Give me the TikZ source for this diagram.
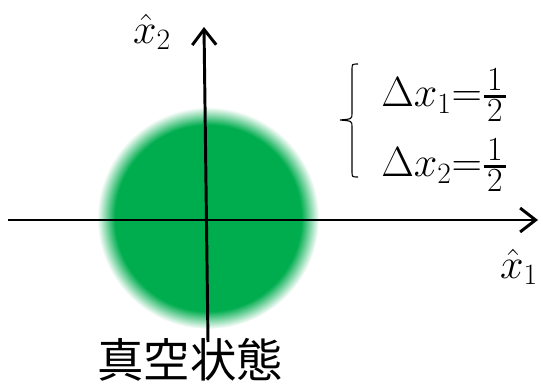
\RequirePackage{fix-cm}
\documentclass[tikz,border=0pt]{standalone}
\usepackage{amsmath}
\usepackage{fontspec}
\newfontfamily\jpfont{Noto Sans CJK JP}
\usetikzlibrary{arrows.meta}
\definecolor{vacgreen}{RGB}{0,173,78}
\pgfdeclareradialshading{blurdisk}{\pgfpoint{0bp}{0bp}}{color(0bp)=(vacgreen); color(21bp)=(vacgreen); color(25bp)=(white); color(50bp)=(white)}
\newcommand{\halfdigit}[1]{\hbox{\fontsize{24}{24}\selectfont\makebox[16pt]{#1}}}
\newcommand{\halfval}{\genfrac{}{}{1.5pt}{1}{\halfdigit{1}}{\halfdigit{2}}}

\begin{document}
\begin{tikzpicture}[
  x=0.025cm, y=-0.025cm,
  >={Straight Barb[length=11pt, width=17pt]},
  axis/.style={line width=2.1pt, ->},
  lbl/.style={font=\fontsize{30}{34}\selectfont, inner sep=0pt},
  bracket/.style={line width=0.8pt}
]
\useasboundingbox (0,0) rectangle (543,385);

% vacuum state
\shade[shading=blurdisk] (208,218) circle [radius=111];

% axes
\coordinate (west) at (8,220);
\coordinate (east) at (538,220);
\coordinate (south) at (208,342);
\coordinate (north) at (204,27);
\draw[axis] (west) -- (east);
\draw[axis] (south) -- (north);

\node[lbl] (xtwo) at (152,32) {$\hat{x}_2$};
\node[lbl] (xone) at (519,267) {$\hat{x}_1$};

% uncertainties
\node[lbl, anchor=base west] (dxone) at (381,107) {$\Delta x_1{=}\halfval$};
\node[lbl, anchor=base west] (dxtwo) at (381,177) {$\Delta x_2{=}\halfval$};
\coordinate (tip) at (340,120);
\draw[bracket] (358,64) .. controls (352,64) .. (352,70) -- (352,113)
  .. controls (352,119) .. (tip) .. controls (352,121) .. (352,127)
  -- (352,171) .. controls (352,177) .. (358,177);

\node[font=\jpfont\fontsize{33}{36}\selectfont, inner sep=0pt] (vac) at (190,360) {真空状態};
\end{tikzpicture}
\end{document}
